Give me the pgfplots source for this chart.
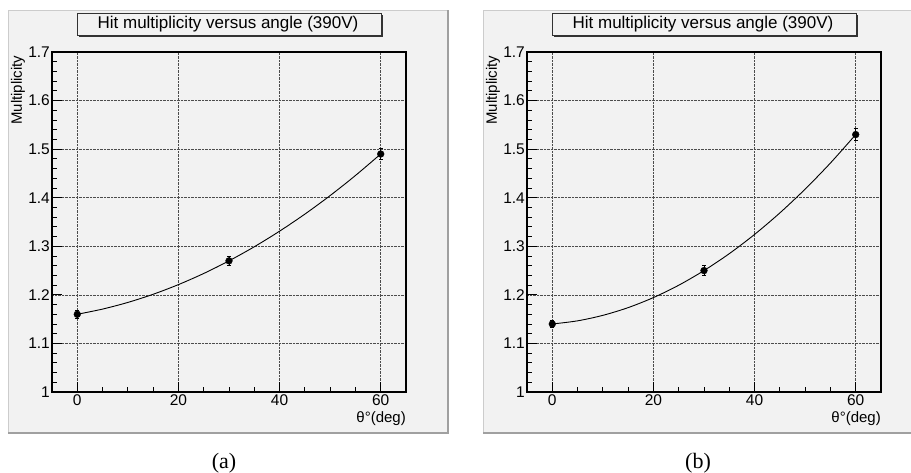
\documentclass[border=0pt]{standalone}
\usepackage{pgfplots}
\pgfplotsset{compat=1.18}
\usepackage{fontspec}
\setmainfont{Liberation Sans}
\newfontfamily\capfont{Liberation Serif}
\definecolor{canvasgray}{RGB}{242,242,242}
\definecolor{shadowgray}{RGB}{160,160,160}

\pgfplotsset{rootstyle/.style={
  scale only axis, width=354pt, height=340pt,
  xmin=-5, xmax=65, ymin=1, ymax=1.7,
  xtick={0,20,40,60}, ytick={1,1.1,1.2,1.3,1.4,1.5,1.6,1.7},
  minor x tick num=3, minor y tick num=4,
  tick align=inside, tick pos=left,
  major tick length=10pt, minor tick length=5pt,
  every tick/.style={black, line width=0.8pt},
  axis line style={line width=1.2pt},
  grid=major, major grid style={densely dotted, black!70, line width=0.6pt},
  tick label style={font=\fontsize{15.5}{15.5}\selectfont},
  xticklabel style={inner sep=2pt},
  yticklabel style={inner sep=2pt},
  /pgf/number format/assume math mode=true,
  yticklabel style={/pgf/number format/fixed, /pgf/number format/precision=1},
  xlabel={θ°(deg)}, ylabel={Multiplicity},
  label style={font=\fontsize{15}{15}\selectfont},
  xlabel style={at={(axis description cs:1,-0.058)}, anchor=north east, inner sep=0pt},
  ylabel style={at={(axis description cs:-0.076,0.99)}, anchor=south east, inner sep=0pt},
  clip=false,
}}
\pgfplotsset{datastyle/.style={black, only marks, mark=*, mark size=3.4pt,
  error bars/.cd, y dir=both, y explicit, error bar style={line width=0.9pt}, error mark options={rotate=90, mark size=2pt, line width=0.9pt}}}
\pgfplotsset{fitstyle/.style={black, no marks, smooth, line width=0.9pt}}

\newcommand{\panelbg}[1]{%
  \begin{scope}[xshift=#1]
  \fill[canvasgray] (8pt,40pt) rectangle (448pt,463pt);
  \draw[black!20, line width=0.8pt] (8pt,40pt) -- (8pt,463pt) -- (448pt,463pt);
  \draw[shadowgray, line width=1.6pt] (8pt,40pt) -- (448pt,40pt) -- (448pt,463pt);
  \fill[black!80] (79pt,436pt) rectangle (383pt,458pt);
  \filldraw[fill=canvasgray, draw=black!80, line width=0.8pt] (77pt,438pt) rectangle (381pt,460pt);
  \node[font=\fontsize{17}{17}\selectfont] at (228pt,449pt) {Hit multiplicity versus angle (390V)};
  \end{scope}}

\begin{document}
\begin{tikzpicture}
\useasboundingbox (0pt,0pt) rectangle (911pt,473pt);
\begin{scope}
\clip (0pt,0pt) rectangle (911pt,473pt);
\panelbg{0pt}
\panelbg{475pt}
\end{scope}

\begin{axis}[rootstyle, at={(52pt,81pt)}, anchor=south west]
\addplot[fitstyle] coordinates {
(0,1.160) (5,1.1707) (10,1.1844) (15,1.2012) (20,1.2211) (25,1.2440) (30,1.270)
(35,1.2990) (40,1.3311) (45,1.3662) (50,1.4044) (55,1.4457) (60,1.490)};
\addplot[datastyle] coordinates {(0,1.16) +- (0,0.008) (30,1.27) +- (0,0.01) (60,1.49) +- (0,0.012)};
\end{axis}

\begin{axis}[rootstyle, at={(527pt,81pt)}, anchor=south west]
\addplot[fitstyle] coordinates {
(0,1.140) (5,1.1465) (10,1.1578) (15,1.1737) (20,1.1944) (25,1.2198) (30,1.250)
(35,1.2848) (40,1.3244) (45,1.3687) (50,1.4177) (55,1.4714) (60,1.530)};
\addplot[datastyle] coordinates {(0,1.14) +- (0,0.008) (30,1.25) +- (0,0.01) (60,1.53) +- (0,0.012)};
\end{axis}

\node[font=\capfont\fontsize{22}{22}\selectfont] at (224pt,10pt) {(a)};
\node[font=\capfont\fontsize{22}{22}\selectfont] at (698pt,10pt) {(b)};
\end{tikzpicture}
\end{document}
